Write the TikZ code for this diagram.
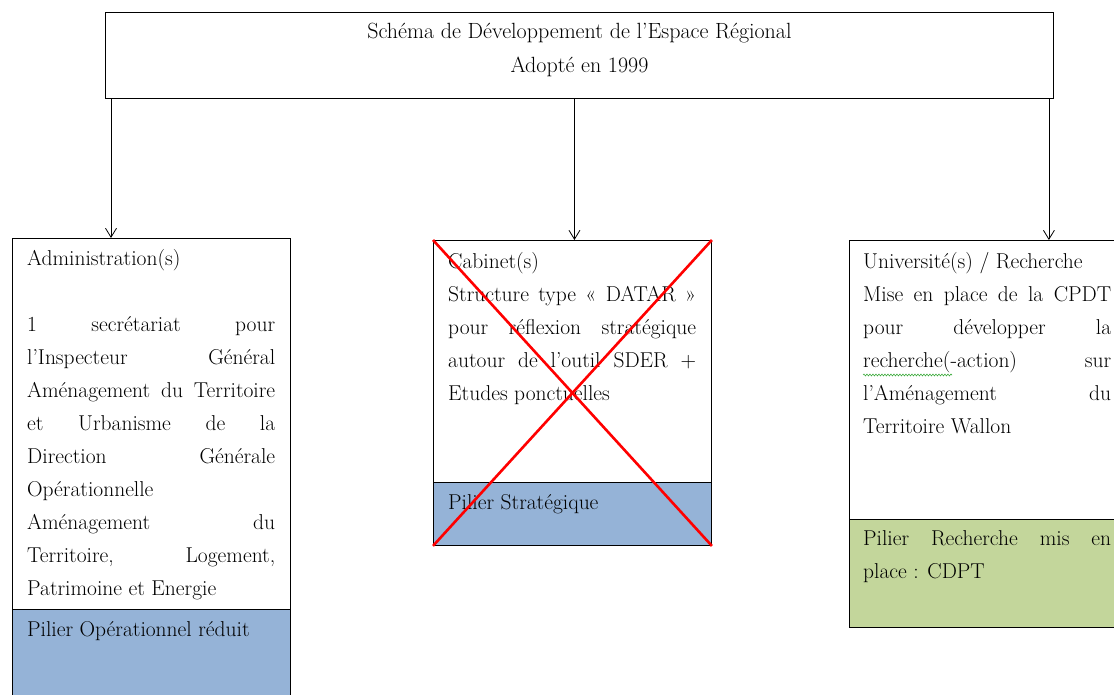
\documentclass[tikz,border=0pt]{standalone}
\usepackage{tikz}
\usetikzlibrary{arrows.meta,decorations.pathmorphing}

\definecolor{pilierbleu}{RGB}{149,179,215}
\definecolor{piliervert}{RGB}{195,214,155}
\definecolor{vertsouligne}{RGB}{60,170,60}

\tikzset{
  cadre/.style={draw, line width=0.9pt, inner sep=0pt, anchor=north west, minimum width=278pt},
  texte/.style={anchor=north west, text width=248pt, align=justify, inner sep=0pt,
                font=\fontsize{21.5}{33}\selectfont, execute at begin node=\setlength{\parindent}{0pt}},
  fleche/.style={-{Straight Barb[length=9pt,width=11pt]}, line width=0.8pt},
  croix/.style={draw=red, line width=2.6pt},
  ondule/.style={draw=vertsouligne, line width=0.6pt, decorate,
                 decoration={snake, amplitude=0.9pt, segment length=3pt}}
}

\begin{document}
\begin{tikzpicture}[x=1pt,y=-1pt]
                    \clip (0,0) rectangle (1114,695);
                    % titre
                    \node[cadre, minimum width=948pt, minimum height=86pt](sder) at (105,12){};
                    \node[align=center, inner sep=0pt, font=\fontsize{22}{34}\selectfont](titre)
                        at ([yshift=5pt]sder.center){Schéma de Développement de l’Espace Régional\\Adopté en 1999};
                    % administration
                    \node[cadre, minimum height=371pt](adminhaut) at (12,238){};
                    \node[cadre, minimum height=200pt, fill=pilierbleu](adminbas) at (12,609){};
                    \node[texte](admintxt) at (27,249){Administration(s)\par\mbox{}\par
                        1 secrétariat pour\linebreak l’Inspecteur Général\linebreak
                        Aménagement du Territoire\linebreak et Urbanisme de la\linebreak
                        Direction Générale\linebreak Opérationnelle\newline
                        Aménagement du\linebreak Territoire, Logement,\linebreak Patrimoine et Energie};
                    \node[texte](adminpil) at (27,621){Pilier Opérationnel réduit};
                    % cabinet
                    \node[cadre, minimum height=242pt](cabhaut) at (433,240){};
                    \node[cadre, minimum height=63pt, fill=pilierbleu](cabbas) at (433,482){};
                    \node[texte](cabtxt) at (448,252){Cabinet(s)\par
                        Structure type «~DATAR~»\linebreak pour réflexion stratégique\linebreak
                        autour de l’outil SDER +\linebreak Etudes ponctuelles};
                    \node[texte](cabpil) at (448,494){Pilier Stratégique};
                    % universite
                    \node[cadre, minimum height=279pt](univhaut) at (849,240){};
                    \node[cadre, minimum height=108pt, fill=piliervert](univbas) at (849,519){};
                    \node[texte](univtxt) at (863,252){Université(s) / Recherche\par
                        Mise en place de la CPDT\linebreak pour développer la\linebreak
                        recherche(-action) sur\linebreak l’Aménagement du\linebreak Territoire Wallon};
                    \node[texte](univpil) at (863,530){Pilier Recherche mis en\linebreak place~: CDPT};
                    \draw[ondule] (863,375) -- (952,375);
                    % fleches
                    \draw[fleche]([xshift=6pt]sder.south west)--([xshift=6pt]sder.south west |- adminhaut.north);
                    \draw[fleche]([xshift=-5pt]sder.south)--([xshift=-5pt]sder.south |- cabhaut.north);
                    \draw[fleche]([xshift=-5pt]sder.south east)--([xshift=-5pt]sder.south east |- univhaut.north);
                    % croix rouge
                    \draw[croix](cabhaut.north west)--(cabbas.south east);
                    \draw[croix](cabhaut.north east)--(cabbas.south west);
                \end{tikzpicture}
\end{document}
